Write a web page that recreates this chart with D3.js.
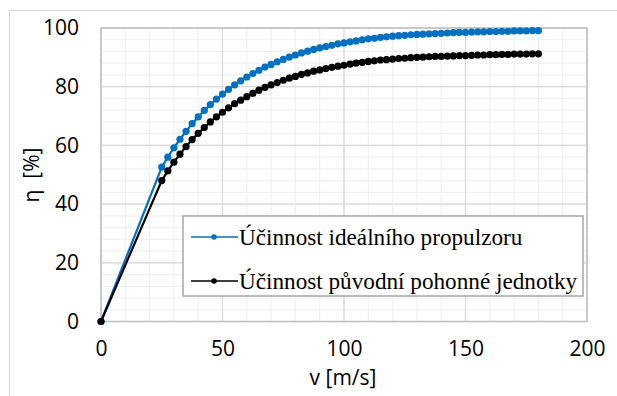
<!DOCTYPE html>
<html>
<head>
<meta charset="utf-8">
<script src="https://cdn.jsdelivr.net/npm/d3@7"></script>
<style>
  body { margin: 0; background: #fff; }
  svg { display: block; }
</style>
</head>
<body>
<script>
// rychlost v [m/s]
var speed = [0, 25, 27.5, 30, 32.5, 35, 37.5, 40, 42.5, 45, 47.5, 50, 52.5, 55, 57.5, 60, 62.5, 65, 67.5, 70, 72.5,
    75, 77.5, 80, 82.5, 85, 87.5, 90, 92.5, 95, 97.5, 100, 102.5, 105, 107.5, 110, 112.5, 115, 117.5, 120, 122.5,
    125, 127.5, 130, 132.5, 135, 137.5, 140, 142.5, 145, 147.5, 150, 152.5, 155, 157.5, 160, 162.5, 165, 167.5,
    170, 172.5, 175, 177.5, 180];

// ucinnost idealniho propulzoru [%]
var idealEff = [0, 52.6, 56.0, 59.2, 62.1, 64.8, 67.4, 69.7, 71.9, 73.9, 75.8, 77.5, 79.1, 80.6, 82.0, 83.3, 84.5,
    85.6, 86.7, 87.6, 88.5, 89.3, 90.1, 90.8, 91.5, 92.1, 92.7, 93.2, 93.7, 94.1, 94.6, 94.9, 95.3, 95.6, 96.0,
    96.3, 96.5, 96.8, 97.0, 97.2, 97.4, 97.5, 97.7, 97.8, 97.9, 98.0, 98.1, 98.2, 98.3, 98.4, 98.5, 98.5, 98.6,
    98.7, 98.7, 98.8, 98.8, 98.9, 98.9, 99.0, 99.0, 99.0, 99.1, 99.1];

// ucinnost puvodni pohonne jednotky [%]
var originalEff = [0, 48.0, 51.3, 54.3, 57.0, 59.6, 62.0, 64.1, 66.1, 68.0, 69.7, 71.3, 72.8, 74.2, 75.4, 76.6,
    77.7, 78.8, 79.8, 80.6, 81.4, 82.2, 82.9, 83.5, 84.2, 84.7, 85.3, 85.7, 86.2, 86.6, 87.0, 87.3, 87.7, 88.0,
    88.3, 88.6, 88.8, 89.1, 89.2, 89.4, 89.6, 89.7, 89.9, 90.0, 90.1, 90.2, 90.3, 90.3, 90.4, 90.5, 90.6, 90.6,
    90.7, 90.8, 90.8, 90.9, 90.9, 91.0, 91.0, 91.1, 91.1, 91.1, 91.2, 91.2];

var xTicks = [0, 50, 100, 150, 200];
var yTicks = [0, 20, 40, 60, 80, 100];

var seriesNames = ["Účinnost ideálního propulzoru", "Účinnost původní pohonné jednotky"];
var seriesColors = ["#0070C0", "#000000"];

var width = 617, height = 396;
var plot = { left: 101, right: 587, top: 28, bottom: 321.5 };

var svg = d3.select("body").append("svg")
    .attr("width", width)
    .attr("height", height);

// ramecek grafu
svg.append("rect")
    .attr("x", 9.5).attr("y", 10.5)
    .attr("width", 630).attr("height", 400)
    .attr("fill", "#fff")
    .attr("stroke", "#d9d9d9")
    .attr("stroke-width", 1.2);

var x = d3.scaleLinear().domain([0, 200]).range([plot.left, plot.right]);
var y = d3.scaleLinear().domain([0, 100]).range([plot.bottom, plot.top]);

var grid = svg.append("g");

// vedlejsi mrizka
grid.selectAll(".minx")
    .data(d3.range(0, 201, 10))
    .enter().append("line")
    .attr("x1", function (d) { return x(d); })
    .attr("x2", function (d) { return x(d); })
    .attr("y1", plot.top).attr("y2", plot.bottom)
    .attr("stroke", "#f0f0f0").attr("stroke-width", 1.2);

grid.selectAll(".miny")
    .data(d3.range(0, 101, 4))
    .enter().append("line")
    .attr("y1", function (d) { return y(d); })
    .attr("y2", function (d) { return y(d); })
    .attr("x1", plot.left).attr("x2", plot.right)
    .attr("stroke", "#f0f0f0").attr("stroke-width", 1.2);

// hlavni mrizka
grid.selectAll(".majx")
    .data(xTicks)
    .enter().append("line")
    .attr("x1", function (d) { return x(d); })
    .attr("x2", function (d) { return x(d); })
    .attr("y1", plot.top).attr("y2", plot.bottom)
    .attr("stroke", "#d9d9d9").attr("stroke-width", 1.2);

grid.selectAll(".majy")
    .data(yTicks)
    .enter().append("line")
    .attr("y1", function (d) { return y(d); })
    .attr("y2", function (d) { return y(d); })
    .attr("x1", plot.left).attr("x2", plot.right)
    .attr("stroke", "#d9d9d9").attr("stroke-width", 1.2);

svg.append("rect")
    .attr("x", plot.left).attr("y", plot.top)
    .attr("width", plot.right - plot.left)
    .attr("height", plot.bottom - plot.top)
    .attr("fill", "none")
    .attr("stroke", "#bfbfbf")
    .attr("stroke-width", 1.5);

// osy (popisky)
var xAxis = d3.axisBottom(x).tickValues(xTicks).tickSize(0).tickPadding(20);
var yAxis = d3.axisLeft(y).tickValues(yTicks).tickSize(0).tickPadding(22);

svg.append("g")
    .attr("transform", "translate(0," + plot.bottom + ")")
    .call(xAxis)
    .call(function (g) { g.select(".domain").remove(); })
    .selectAll("text")
    .attr("font-family", "'Open Sans', sans-serif")
    .attr("font-size", 21)
    .attr("fill", "#000");

svg.append("g")
    .attr("transform", "translate(" + plot.left + ",0)")
    .call(yAxis)
    .call(function (g) { g.select(".domain").remove(); })
    .selectAll("text")
    .attr("font-family", "'Open Sans', sans-serif")
    .attr("font-size", 21)
    .attr("fill", "#000");

svg.append("text")
    .attr("x", 343).attr("y", 385)
    .attr("text-anchor", "middle")
    .attr("font-family", "'Open Sans', sans-serif")
    .attr("font-size", 21)
    .text("v [m/s]");

svg.append("text")
    .attr("transform", "translate(39,175) rotate(-90)")
    .attr("text-anchor", "middle")
    .attr("font-family", "'Open Sans', sans-serif")
    .attr("font-size", 21)
    .style("white-space", "pre")
    .text("η  [%]");

// serie
var series = [idealEff, originalEff];
var line = d3.line()
    .x(function (d, i) { return x(speed[i]); })
    .y(function (d) { return y(d); });

series.forEach(function (vals, s) {
    var g = svg.append("g");
    g.append("path")
        .datum(vals)
        .attr("d", line)
        .attr("fill", "none")
        .attr("stroke", seriesColors[s])
        .attr("stroke-width", 2.2);
    g.selectAll("circle")
        .data(vals)
        .enter().append("circle")
        .attr("cx", function (d, i) { return x(speed[i]); })
        .attr("cy", function (d) { return y(d); })
        .attr("r", 3.6)
        .attr("fill", seriesColors[s]);
});

// legenda
var legend = svg.append("g");
legend.append("rect")
    .attr("x", 183).attr("y", 216)
    .attr("width", 400).attr("height", 80)
    .attr("fill", "#fff")
    .attr("stroke", "#a6a6a6")
    .attr("stroke-width", 1.5);

var rowsY = [237, 281];
seriesNames.forEach(function (name, i) {
    legend.append("line")
        .attr("x1", 191).attr("x2", 238)
        .attr("y1", rowsY[i]).attr("y2", rowsY[i])
        .attr("stroke", seriesColors[i])
        .attr("stroke-width", i == 0 ? 1.5 : 1.3);
    legend.append("circle")
        .attr("cx", 214).attr("cy", rowsY[i])
        .attr("r", 2.8)
        .attr("fill", seriesColors[i]);
    legend.append("text")
        .attr("x", 239).attr("y", rowsY[i] + 8)
        .attr("font-family", "'Liberation Serif', 'Times New Roman', serif")
        .attr("font-size", 23.2)
        .attr("fill", "#000")
        .text(name);
});
</script>
</body>
</html>
